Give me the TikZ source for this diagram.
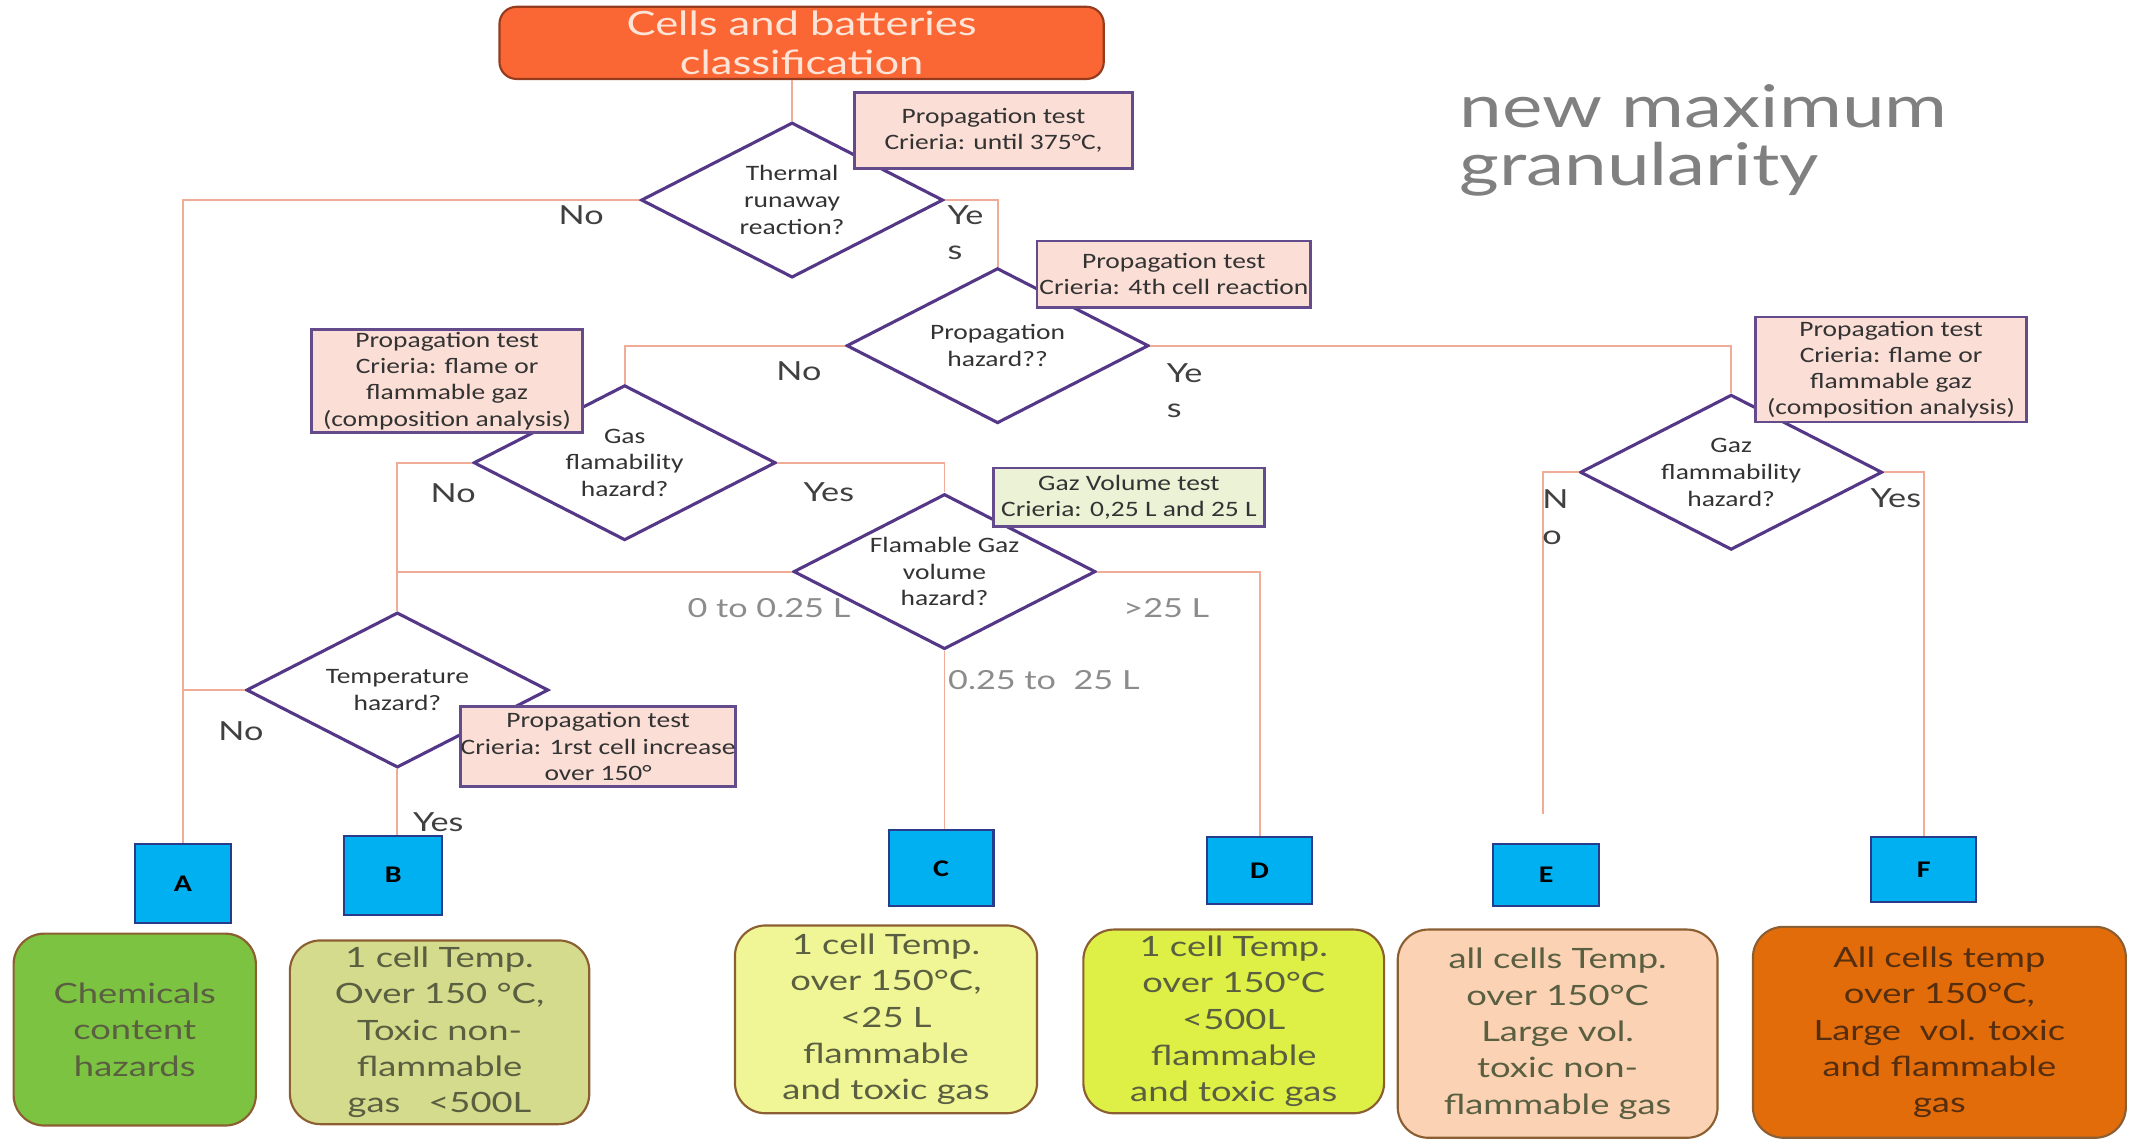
\documentclass[tikz,border=0pt]{standalone}
\usepackage{fontspec}
\usetikzlibrary{shapes.geometric}
\newfontfamily\latof{Lato}[FakeStretch=1.3]
\newfontfamily\carf{Carlito}[FakeStretch=1.25]
\newlength\upx \setlength\upx{0.02cm}
\definecolor{titlef}{RGB}{250,102,52}
\definecolor{titleb}{RGB}{150,60,30}
\definecolor{titletext}{RGB}{253,228,214}
\definecolor{diac}{RGB}{85,55,135}
\definecolor{notec}{RGB}{100,75,140}
\definecolor{notepink}{RGB}{251,222,213}
\definecolor{notegreen}{RGB}{236,242,214}
\definecolor{connc}{RGB}{240,172,150}
\definecolor{bluef}{RGB}{0,176,240}
\definecolor{blueb}{RGB}{40,60,140}
\definecolor{resb}{RGB}{140,95,50}
\definecolor{restext}{RGB}{90,95,65}
\definecolor{labc}{RGB}{64,64,64}
\definecolor{vlabc}{RGB}{140,140,140}
\definecolor{grayt}{RGB}{128,128,128}
\definecolor{rAf}{RGB}{125,195,66}
\definecolor{rBf}{RGB}{212,219,140}
\definecolor{rCf}{RGB}{240,245,150}
\definecolor{rDf}{RGB}{222,240,70}
\definecolor{rEf}{RGB}{251,210,180}
\definecolor{rFf}{RGB}{226,108,10}
\begin{document}
\begin{tikzpicture}[x=0.02cm,y=-0.02cm,
 conn/.style={draw=connc, line width=0.8pt},
 dia/.style={diamond, aspect=1.95, draw=diac, line width=1.3pt, fill=white, inner sep=0pt, align=center, font=\carf\fontsize{9.2}{11.2}\selectfont, text=black!80, minimum width=222\upx, minimum height=114\upx},
 note/.style={draw=notec, line width=1.1pt, fill=notepink, inner sep=0pt, align=center, font=\carf\fontsize{9.2}{10.9}\selectfont, text=black!80},
 bluebox/.style={draw=blueb, line width=0.9pt, fill=bluef, inner sep=0pt, font=\carf\bfseries\fontsize{10}{12}\selectfont},
 result/.style={draw=resb, line width=0.9pt, rounded corners=0.45cm, inner sep=0pt, align=center, font=\latof\fontsize{11.7}{15.2}\selectfont, text=restext},
 lab/.style={font=\latof\fontsize{11}{14.7}\selectfont, text=labc, inner sep=0pt, align=left},
 vlab/.style={font=\latof\fontsize{11}{13}\selectfont, text=vlabc, inner sep=0pt},
 titlebox/.style={draw=titleb, line width=0.9pt, fill=titlef, rounded corners=0.25cm, inner sep=0pt, align=center, font=\latof\fontsize{14}{16}\selectfont, text=titletext}
]
\useasboundingbox (0,0) rectangle (1568,838);

\node[titlebox, minimum width=444\upx, minimum height=53\upx] (title) at (589,31.5) {Cells and batteries\\classification};

\node[dia] (d1) at (582,147) {Thermal\\runaway\\reaction?};
\node[dia] (d2) at (733,254) {Propagation\\hazard??};
\node[dia] (d3) at (459,340) {Gas\\flamability\\hazard?};
\node[dia] (d4) at (292,507) {Temperature\\hazard?};
\node[dia] (d5) at (1272,347) {Gaz\\flammability\\hazard?};
\node[dia] (d6) at (694,420) {Flamable Gaz\\volume\\hazard?};

\node[bluebox, minimum width=71\upx, minimum height=58\upx] (A) at (134.5,649) {A};
\node[bluebox, minimum width=72\upx, minimum height=58\upx] (B) at (289,643) {B};
\node[bluebox, minimum width=77\upx, minimum height=56\upx] (C) at (691.5,638) {C};
\node[bluebox, minimum width=77\upx, minimum height=49\upx] (D) at (925.5,639.5) {D};
\node[bluebox, minimum width=78\upx, minimum height=46\upx] (E) at (1136,643) {E};
\node[bluebox, minimum width=77\upx, minimum height=48\upx] (F) at (1413.5,639) {F};
\coordinate (eEnd) at (1134,598);

\node[result, fill=rAf, minimum width=178\upx, minimum height=141\upx] (rA) at (99,756.5) {Chemicals\\content\\hazards};
\node[result, fill=rBf, minimum width=220\upx, minimum height=135\upx] (rB) at (323,758.5) {1 cell Temp.\\Over 150 °C,\\Toxic non-\\flammable\\gas\ \ \ <500L};
\node[result, fill=rCf, minimum width=222\upx, minimum height=138\upx] (rC) at (651,749) {1 cell Temp.\\over 150°C,\\<25 L\\flammable\\and toxic gas};
\node[result, fill=rDf, minimum width=221\upx, minimum height=135\upx] (rD) at (906.5,750.5) {1 cell Temp.\\over 150°C\\<500L\\flammable\\and toxic gas};
\node[result, fill=rEf, minimum width=235\upx, minimum height=153\upx] (rE) at (1144.5,759.5) {all cells Temp.\\over 150°C\\Large vol.\\toxic non-\\flammable gas};
\node[result, fill=rFf, text={rgb,255:red,85;green,45;blue,15}, minimum width=274\upx, minimum height=155\upx] (rF) at (1425,758.5) {All cells temp\\over 150°C,\\Large\ \ vol. toxic\\and flammable\\gas};

\draw[conn] (d1.north |- title.south) -- (d1.north);
\draw[conn] (d1.west) -| (A.north);
\draw[conn] (d4.west) -- (d4.west -| A.north);
\draw[conn] (d1.east) -| (d2.north);
\draw[conn] (d2.west) -| (d3.north);
\draw[conn] (d2.east) -| (d5.north);
\draw[conn] (d3.west) -| (d4.north);
\draw[conn] (d3.east) -| (d6.north);
\draw[conn] (d6.west) -- (d6.west -| d4.north);
\draw[conn] (d6.south) -- (d6.south |- C.north);
\draw[conn] (d6.east) -| (D.north);
\draw[conn] (d4.south) -- (d4.south |- B.north);
\draw[conn] (d5.west) -| (eEnd);
\draw[conn] (d5.east) -| (F.north);

\node[note, minimum width=204\upx, minimum height=56\upx] (n1) at (730,96) {Propagation test\\Crieria: until 375°C,};
\node[note, minimum width=201\upx, minimum height=49\upx] (n2) at (862.5,201.5) {Propagation test\\Crieria: 4th cell reaction};
\node[note, minimum width=199\upx, minimum height=76\upx] (n3) at (328.5,280) {Propagation test\\Crieria: flame or\\flammable gaz\\(composition analysis)};
\node[note, fill=notegreen, minimum width=199\upx, minimum height=43\upx] (n4) at (829.5,365.5) {Gaz Volume test\\Crieria: 0,25 L and 25 L};
\node[note, minimum width=201\upx, minimum height=59\upx] (n5) at (439.5,548.5) {Propagation test\\Crieria: 1rst cell increase\\over 150°};
\node[note, minimum width=199\upx, minimum height=77\upx] (n6) at (1389.5,271.5) {Propagation test\\Crieria: flame or\\flammable gaz\\(composition analysis)};

\node[lab] (l1) at (427,158) {No};
\node[lab, anchor=west] (l2) at (696,171) {Ye\\s};
\node[lab] (l3) at (587,273) {No};
\node[lab, anchor=west] (l4) at (857,287) {Ye\\s};
\node[lab] (l5) at (333,362) {No};
\node[lab] (l6) at (609,362) {Yes};
\node[vlab] (l7) at (565,447) {0 to 0.25 L};
\node[vlab] (l8) at (857,447) {>25 L};
\node[vlab] (l9) at (767,500) {0.25 to\ \ 25 L};
\node[lab] (l10) at (177,537) {No};
\node[lab] (l11) at (322,604) {Yes};
\node[lab, anchor=west] (l12) at (1133,380) {N\\o};
\node[lab] (l13) at (1393,366) {Yes};

\node[anchor=west, align=left, inner sep=0pt, text=grayt, font=\latof\fontsize{24.6}{24.4}\selectfont] (nm) at (1072,103) {new maximum\\granularity};
\end{tikzpicture}
\end{document}
